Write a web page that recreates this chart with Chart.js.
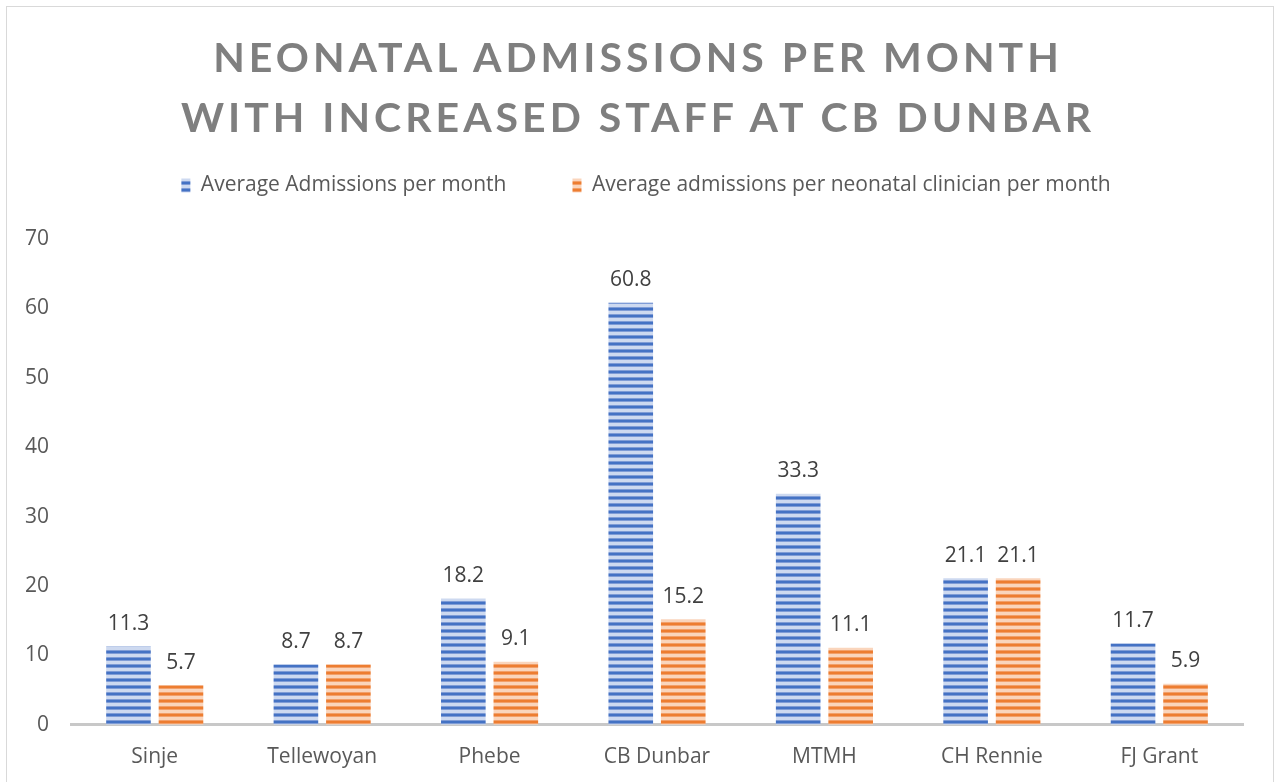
<!DOCTYPE html>
<html>
<head>
<meta charset="utf-8">
<script src="https://cdn.jsdelivr.net/npm/chart.js@4.4.0/dist/chart.umd.js"></script>
<style>
  html, body { margin: 0; padding: 0; background: #fff; }
  #wrap { position: relative; width: 1276px; height: 782px; overflow: hidden; }
  #frame { position: absolute; left: 6px; top: 6px; width: 1266px; height: 800px; border: 1px solid #d9d9d9; }
  #title {
    position: absolute; left: 0; top: 27px; width: 1276px; text-align: center;
    font-family: Lato, "Open Sans", sans-serif; font-weight: bold; font-size: 41px;
    letter-spacing: 4px; line-height: 60px; color: #7f7f7f;
  }
  #chart { position: absolute; left: 0; top: 0; }
</style>
</head>
<body>
<div id="wrap">
  <div id="frame"></div>
  <canvas id="chart" width="1276" height="782"></canvas>
  <div id="title">NEONATAL ADMISSIONS PER MONTH<br>WITH INCREASED STAFF AT CB DUNBAR</div>
</div>
<script>
// chart data
const hospitals = ['Sinje', 'Tellewoyan', 'Phebe', 'CB Dunbar', 'MTMH', 'CH Rennie', 'FJ Grant'];
const avgAdmissions = [11.3, 8.7, 18.2, 60.8, 33.3, 21.1, 11.7];
const perClinician = [5.7, 8.7, 9.1, 15.2, 11.1, 21.1, 5.9];
const seriesNames = ['Average Admissions per month', 'Average admissions per neonatal clinician per month'];
const yTicks = [0, 10, 20, 30, 40, 50, 60, 70];

const FONT = '"Open Sans", sans-serif';

// striped fill like the Excel pattern
function stripes(dark, mid, light) {
  const c = document.createElement('canvas');
  c.width = 8; c.height = 7;
  const g = c.getContext('2d');
  g.fillStyle = light; g.fillRect(0, 0, 8, 7);
  g.fillStyle = dark; g.fillRect(0, 0, 8, 2);
  g.fillStyle = mid; g.fillRect(0, 2, 8, 1); g.fillRect(0, 6, 8, 1);
  return g.createPattern(c, 'repeat');
}
const blueFill = stripes('#4472c4', '#7f9cd6', '#cdd9f0');
const orangeFill = stripes('#ed7d31', '#f2a06a', '#fad5bc');

const valueLabels = {
  id: 'valueLabels',
  afterDatasetsDraw(chart) {
    const ctx = chart.ctx;
    ctx.save();
    ctx.font = '21px ' + FONT;
    ctx.fillStyle = '#404040';
    ctx.textAlign = 'center';
    ctx.textBaseline = 'bottom';
    chart.data.datasets.forEach((ds, i) => {
      chart.getDatasetMeta(i).data.forEach((bar, j) => {
        ctx.fillText(ds.data[j].toFixed(1), bar.x, bar.y - 12);
      });
    });
    ctx.restore();
  }
};

// extra room under the legend, and nudge it right like the original
const legendTweak = {
  id: 'legendTweak',
  beforeInit(chart) {
    const fit = chart.legend.fit;
    chart.legend.fit = function () {
      fit.call(this);
      this.height += 33;
    };
  },
  afterLayout(chart) {
    chart.legend.left += 19;
    chart.legend.right += 19;
  }
};

new Chart(document.getElementById('chart'), {
  type: 'bar',
  data: {
    labels: hospitals,
    datasets: [
      { label: seriesNames[0], data: avgAdmissions, backgroundColor: blueFill },
      { label: seriesNames[1], data: perClinician, backgroundColor: orangeFill }
    ]
  },
  options: {
    responsive: false,
    animation: false,
    layout: { padding: { top: 109, left: 11, right: 33, bottom: 0 } },
    datasets: { bar: { categoryPercentage: 0.627, barPercentage: 0.85 } },
    plugins: {
      title: { display: false },
      tooltip: { enabled: false },
      legend: {
        position: 'top',
        labels: {
          font: { family: FONT, size: 21 },
          color: '#595959',
          boxWidth: 9,
          boxHeight: 14,
          padding: 66
        }
      }
    },
    scales: {
      x: {
        grid: { display: false },
        border: { display: true, color: '#c8c8c8', width: 3 },
        ticks: { color: '#595959', font: { family: FONT, size: 21 }, padding: 12 }
      },
      y: {
        min: 0, max: 70,
        afterBuildTicks: axis => { axis.ticks = yTicks.map(v => ({ value: v })); },
        grid: { display: false },
        border: { display: false },
        ticks: { color: '#595959', font: { family: FONT, size: 21 }, padding: 14 }
      }
    }
  },
  plugins: [valueLabels, legendTweak]
});
</script>
</body>
</html>
